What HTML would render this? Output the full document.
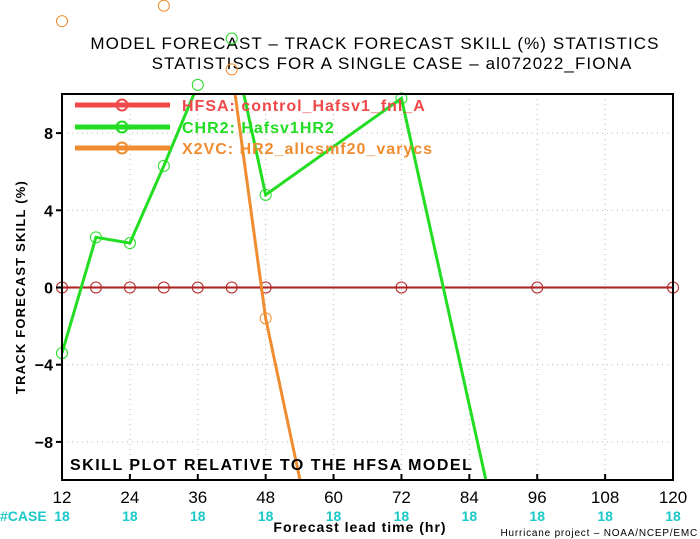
<!DOCTYPE html>
<html><head><meta charset="utf-8"><style>
html,body{margin:0;background:#fff;overflow:hidden;width:700px;height:539px;}
svg{display:block;font-family:"Liberation Sans",sans-serif;font-weight:bold;overflow:hidden;}
</style></head><body>
<svg id="chart" width="700" height="539" viewBox="0 0 700 539" xmlns="http://www.w3.org/2000/svg">
<defs><clipPath id="pc"><rect x="62" y="94" width="611" height="386"/></clipPath></defs>
<text x="375" y="49" font-size="17" letter-spacing="1.1" text-anchor="middle" font-weight="normal" fill="#000">MODEL FORECAST – TRACK FORECAST SKILL (%) STATISTICS</text>
<text x="392" y="69" font-size="17" letter-spacing="1.1" text-anchor="middle" font-weight="normal" fill="#000">STATISTISCS FOR A SINGLE CASE – al072022_FIONA</text>
<g id="grid"></g>
<g id="series"></g>
<rect x="62" y="94" width="611" height="386" fill="none" stroke="#000" stroke-width="2"/>
<g id="axes"></g>
<g id="legend"></g>
<text x="70" y="470" font-size="16" letter-spacing="1.5" fill="#000">SKILL PLOT RELATIVE TO THE HFSA MODEL</text>
<text transform="translate(25,287) rotate(-90)" font-size="13" letter-spacing="1.2" text-anchor="middle" fill="#000">TRACK FORECAST SKILL (%)</text>
<text x="0" y="521" font-size="14" fill="#1cc8c8">#CASE</text>
<text x="360" y="532" font-size="14" letter-spacing="1" text-anchor="middle" fill="#000">Forecast lead time (hr)</text>
<text x="698" y="536" font-size="10" letter-spacing="0.8" text-anchor="end" font-weight="normal" fill="#000">Hurricane project – NOAA/NCEP/EMC</text>
</svg>
<script>
const xTicks=[12,24,36,48,60,72,84,96,108,120];
const yTicks=[8,4,0,-4,-8];
const caseCounts=[18,18,18,18,18,18,18,18,18,18];
const hfsaHours=[12,18,24,30,36,42,48,72,96,120];
const hfsaVals=[0,0,0,0,0,0,0,0,0,0];
const chr2Hours=[12,18,24,30,36,42,48,72,96];
const chr2Vals=[-3.4,2.6,2.3,6.3,10.5,12.9,4.8,9.8,-22];
const x2vcHours=[12,18,24,30,36,42,48,72];
const x2vcVals=[13.8,16,16.5,14.6,15.5,11.3,-1.6,-34.7];
const NS='http://www.w3.org/2000/svg';
const X=h=>62+(h-12)*(611/108);
const Y=v=>287.5-v*19.3;
function mk(tag,attrs,parent){const e=document.createElementNS(NS,tag);for(const k in attrs)e.setAttribute(k,attrs[k]);parent.appendChild(e);return e;}
const grid=document.getElementById('grid'),axes=document.getElementById('axes'),ser=document.getElementById('series'),leg=document.getElementById('legend');
xTicks.forEach((t,i)=>{
 if(t>12&&t<120){const g=mk('line',{x1:X(t),x2:X(t),y1:94,y2:480,stroke:'#bbb','stroke-dasharray':'1 4'},grid);
 
 }
 const tk=mk('line',{x1:X(t),x2:X(t),y1:474,y2:480,stroke:'#000','stroke-width':2},axes);
 
 
 const l=mk('text',{x:X(t),y:503,'font-size':17,'text-anchor':'middle','font-weight':'normal',fill:'#000'},axes);l.textContent=t;
 
 
 const c=mk('text',{x:X(t),y:521,'font-size':14,'text-anchor':'middle',fill:'#1cc8c8'},axes);c.textContent=caseCounts[i];
 
 
});
yTicks.forEach(t=>{
 const g=mk('line',{x1:62,x2:673,y1:Y(t),y2:Y(t),stroke:'#bbb','stroke-dasharray':'1 4'},grid);
 
 
 const tk=mk('line',{x1:56,x2:62,y1:Y(t),y2:Y(t),stroke:'#000','stroke-width':2},axes);
 
 
 const l=mk('text',{x:53,y:Y(t)+6,'font-size':16,'text-anchor':'end',fill:'#000'},axes);l.textContent=t===0?'0':(t<0?'−'+(-t):t);
 
 
});
const zl=mk('line',{x1:62,x2:673,y1:Y(0),y2:Y(0),stroke:'#8b0000','stroke-width':2},grid);


function series(hours,vals,color,name,w){
 const g=mk('g',{},ser);
 
 
 const p=mk('polyline',{points:hours.map((h,i)=>X(h)+','+Y(vals[i])).join(' '),fill:'none',stroke:color,'stroke-width':w,'clip-path':'url(#pc)'},g);
 
 
 hours.forEach((h,i)=>{const c=mk('circle',{cx:X(h),cy:Y(vals[i]),r:5.5,fill:'none',stroke:color,'stroke-width':1},g);
 
 });
}
series(hfsaHours,hfsaVals,'#b22222','hfsa',1.5);
series(x2vcHours,x2vcVals,'#f08c30','x2vc',3);
series(chr2Hours,chr2Vals,'#22dd22','chr2',3);
[['HFSA:  control_Hafsv1_fnl_A','#f04848',105],['CHR2:  Hafsv1HR2','#22dd22',127],['X2VC:  HR2_allcsmf20_varycs','#f08c30',148]].forEach(d=>{
 const l=mk('line',{x1:75,x2:170,y1:d[2],y2:d[2],stroke:d[1],'stroke-width':5},leg);
 
 
 const c=mk('circle',{cx:122,cy:d[2],r:5.5,fill:'none',stroke:d[1],'stroke-width':2},leg);
 
 
 const t=mk('text',{x:182,y:d[2]+6,'font-size':16,'letter-spacing':1,fill:d[1]},leg);t.textContent=d[0];
 
 
});
</script>
</body></html>
